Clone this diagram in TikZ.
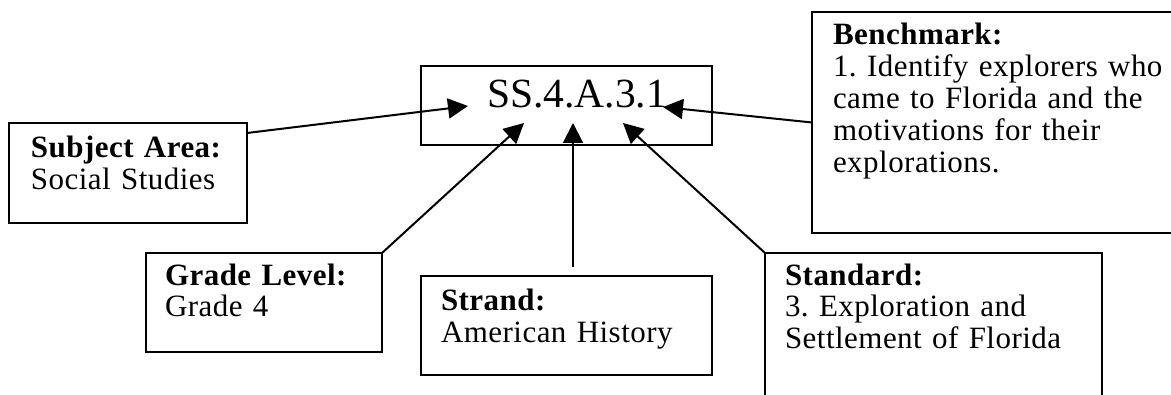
\documentclass[tikz,border=0pt]{standalone}
\usepackage{fontspec}
\setmainfont{Liberation Serif}
\newfontfamily\boxfont{Liberation Serif}[LetterSpace=1.5]
\usetikzlibrary{arrows.meta}

\tikzset{
  infobox/.style={draw, line width=1pt, anchor=north west, align=left, inner ysep=0pt, outer sep=0pt, font=\boxfont\fontsize{15.5}{16}\selectfont\frenchspacing},
  arr/.style={line width=1pt, -{Triangle[length=10pt,width=10pt]}}
}

\begin{document}
\begin{tikzpicture}[x=0.5pt,y=-0.5pt]
\useasboundingbox (0,0) rectangle (1171,395);

%BOXES
% code
\node[infobox, align=right, inner xsep=22.5pt, text width=100.5pt, text height=21pt, text depth=18.5pt, font=\fontsize{20.75}{24}\selectfont] (code) at (421,66) {SS.4.A.3.1};
% subject area
\node[infobox, inner xsep=11pt, text width=97pt, text height=17.5pt, text depth=32.5pt] (subject) at (9,123) {\textbf{Subject Area:}\\Social Studies};
% grade level
\node[infobox, inner xsep=9.5pt, text width=99pt, text height=16pt, text depth=33.5pt] (grade) at (146,253) {\textbf{Grade Level:}\\Grade 4};
% strand
\node[infobox, inner xsep=10pt, text width=125.5pt, text height=17pt, text depth=32.5pt] (strand) at (421,276) {\textbf{Strand:}\\American History};
% standard
\node[infobox, inner xsep=10pt, text width=148.5pt, text height=16pt, text depth=67.5pt] (standard) at (765,253) {\textbf{Standard:}\\3. Exploration and\\Settlement of Florida};
% benchmark
\node[infobox, inner xsep=10.5pt, text width=189pt, text height=16.5pt, text depth=94pt] (benchmark) at (812,12) {\textbf{Benchmark:}\\1. Identify explorers who\\came to Florida and the\\motivations for their\\explorations.};

%ARROWS
\coordinate (tipsubject) at (468,106);
\coordinate (tipbench) at (663,107);
\coordinate (tipgrade) at (524,123);
\coordinate (tipstrand) at (573,123);
\coordinate (tipstandard) at (623,123);

\draw[arr] ([yshift=-5pt]subject.north east) -- (tipsubject);
\draw[arr] (benchmark.west) -- (tipbench);
\draw[arr] (grade.north east) -- (tipgrade);
\draw[arr, shorten <=4.5pt] (tipstrand |- strand.north) -- (tipstrand);
\draw[arr] (standard.north west) -- (tipstandard);

\end{tikzpicture}
\end{document}
